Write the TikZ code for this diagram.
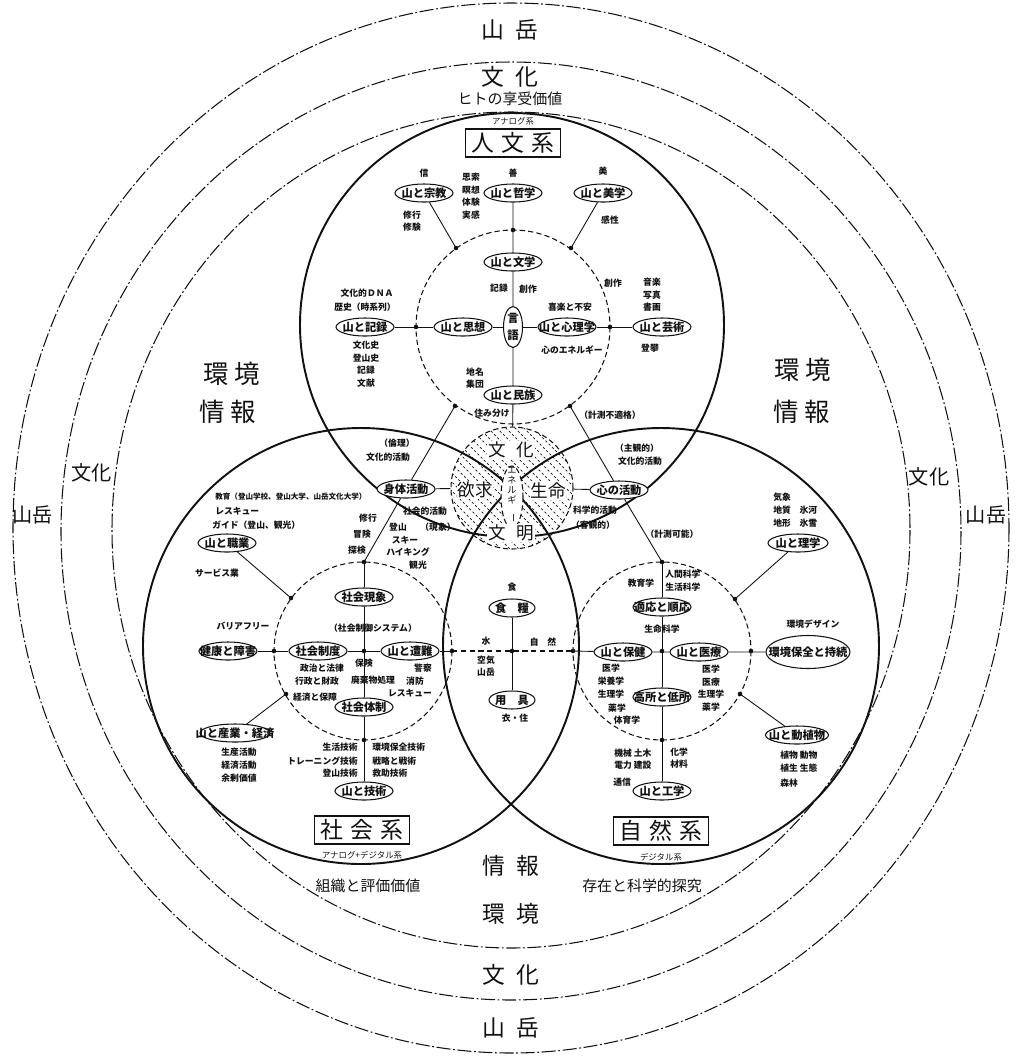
\documentclass[tikz,border=0pt]{standalone}
\usepackage{fontspec}
\usepackage{graphicx}
\setmainfont{Noto Sans CJK JP}
\usetikzlibrary{shapes.geometric}
\definecolor{inkdark}{HTML}{111111}

\begin{document}
\begin{tikzpicture}[x=0.02cm, y=-0.02cm, inkdark,
    ring/.style={line width=0.6pt, dash pattern=on 8pt off 1.5pt on 1pt off 1.5pt},
    sysline/.style={line width=1.1pt},
    innerring/.style={line width=0.6pt, dash pattern=on 3pt off 1.8pt},
    wire/.style={line width=0.5pt},
    bub/.style={draw, ellipse, fill=white, line width=0.6pt, inner sep=0pt,
        minimum width=1.16cm, minimum height=0.36cm,
        font=\fontsize{6.4}{7}\selectfont\bfseries,
        execute at begin node={\hbox to 0pt\bgroup\hss},
        execute at end node={\hss\egroup}},
    lbl/.style={inner sep=0pt, align=center, font=\fontsize{5}{7.2}\selectfont\bfseries},
    tiny/.style={inner sep=0pt, font=\fontsize{4.8}{6}\selectfont},
    big/.style={inner sep=0pt, font=\fontsize{13}{15}\selectfont},
    side/.style={inner sep=0pt, font=\fontsize{11.5}{13}\selectfont},
    mid/.style={inner sep=0pt, font=\fontsize{8.5}{10}\selectfont},
    sysbox/.style={draw, fill=white, line width=0.9pt, inner xsep=3.6pt, inner ysep=2pt,
        font=\fontsize{13}{15}\selectfont},
    coretext/.style={inner sep=0.4pt, fill=white, font=\fontsize{10}{12}\selectfont}
]

\useasboundingbox (0,0) rectangle (1016,1056);

% Rings
\draw[ring] (511,528) ellipse [x radius=498, y radius=525];
\draw[ring] (511,531) ellipse [x radius=450, y radius=469];
\draw[ring] (511,530) ellipse [x radius=399, y radius=418];

% Three systems
\draw[sysline] (512,325) circle [radius=212];
\draw[sysline] (361,646) circle [radius=218];
\draw[sysline] (661,646) circle [radius=218];

% Core
\begin{scope}
    \clip (512,488) circle [radius=61];
    \foreach \s in {-135,-126,...,135}
        \draw[line width=0.4pt, dash pattern=on 1.3pt off 1.3pt] (512+\s-70,418) -- (512+\s+70,558);
\end{scope}
\node[circle, draw, innerring, minimum size=2.44cm, inner sep=0pt] (core) at (512,488) {};
\draw[innerring, fill=white] (512,497) ellipse [x radius=11, y radius=31];

% Inner rings
\draw[innerring] (513,327) circle [radius=97];
\draw[innerring] (363,651) circle [radius=89];
\draw[innerring] (662,651) circle [radius=89];

\coordinate (hdt) at (513,230);
\coordinate (hdl) at (416,327);
\coordinate (hdr) at (610,327);
\coordinate (hdul) at (456,248);
\coordinate (hdur) at (571,248);
\coordinate (hdll) at (455,406);
\coordinate (hdlr) at (570,406);
\coordinate (sdt) at (364,562);
\coordinate (sdl) at (274,651);
\coordinate (sdr) at (452,651);
\coordinate (sdul) at (291,598);
\coordinate (sdll) at (286,694);
\coordinate (sdb) at (364,740);
\coordinate (scdot) at (364,651);
\coordinate (cdot) at (512,651);
\coordinate (ndt) at (662,562);
\coordinate (ndl) at (573,651);
\coordinate (ndr) at (751,651);
\coordinate (ndur) at (735,599);
\coordinate (ndlr) at (740,694);
\coordinate (ndb) at (662,740);
\coordinate (ncdot) at (662,651);

% Top and side labels
\node[big] (t-gaku) at (510,30) {山\hspace{.5em}岳};
\node[big] (t-bunka) at (510,77) {文\hspace{.5em}化};
\node[mid] (t-kyoju) at (510,99) {ヒトの享受価値};
\node[tiny] (t-analog) at (513,121) {アナログ系};
\node[sysbox] (jinbun) at (513,143) {人\hspace{.3em}文\hspace{.3em}系};
\node[big, font=\fontsize{14.5}{16}\selectfont] (l-kankyo) at (232,374) {環\hspace{.2em}境};
\node[big, font=\fontsize{14.5}{16}\selectfont] (l-joho) at (228,412) {情\hspace{.2em}報};
\node[big, font=\fontsize{14.5}{16}\selectfont] (r-kankyo) at (803,370) {環\hspace{.2em}境};
\node[big, font=\fontsize{14.5}{16}\selectfont] (r-joho) at (802,412) {情\hspace{.2em}報};
\node[side] (l-bunka) at (92,473) {文化};
\node[side] (l-gaku) at (33,515) {山岳};
\node[side] (r-bunka) at (929,477) {文化};
\node[side] (r-gaku) at (986,515) {山岳};
\node[big] (b-joho) at (511,866) {情\hspace{.5em}報};
\node[big] (b-kankyo) at (511,914) {環\hspace{.5em}境};
\node[big] (b-bunka) at (511,975) {文\hspace{.5em}化};
\node[big] (b-gaku) at (511,1028) {山\hspace{.5em}岳};
\node[mid] (b-soshiki) at (368,886) {組織と評価価値};
\node[mid] (b-sonzai) at (642,886) {存在と科学的探究};

% Core labels
\node[coretext] (k-bunka) at (511,450) {文\hspace{.6em}化};
\node[coretext] (k-yokkyu) at (475,490) {欲求};
\node[coretext] (k-seimei) at (548,491) {生命};
\node[coretext] (k-bunmei) at (511,533) {文\hspace{.6em}明};
\node[lbl, font=\fontsize{5.2}{5.6}\selectfont] (k-energy) at (512,495) {エ\\ネ\\ル\\ギ\\\rotatebox{-90}{ー}};

% Humanities
\node[bub] (shukyo) at (424,193) {山と宗教};
\node[bub] (tetsu) at (513,193) {山と哲学};
\node[bub] (bigaku) at (603,193) {山と美学};
\node[bub] (bungaku) at (513,262) {山と文学};
\node[bub, minimum width=0.38cm, minimum height=0.82cm, font=\fontsize{6.5}{8}\selectfont\bfseries] (gengo) at (513,327) {\shortstack{言\\[1pt]語}};
\node[bub] (shiso) at (463,327) {山と思想};
\node[bub] (shinri) at (567,327) {山と心理学};
\node[bub] (kiroku) at (365,327) {山と記録};
\node[bub] (geijutsu) at (662,327) {山と芸術};
\node[bub] (minzoku) at (513,395) {山と民族};

\node[lbl] (h-shin) at (424,173) {信};
\node[lbl] (h-zen) at (513,173) {善};
\node[lbl] (h-bi) at (603,171) {美};
\node[lbl] (h-shisaku) at (471,196) {思索\\瞑想\\体験\\実感};
\node[lbl] (h-shugyo) at (412,221) {修行\\修験};
\node[lbl] (h-kansei) at (610,220) {感性};
\node[lbl] (h-kiroku) at (499,288) {記録};
\node[lbl] (h-sosaku) at (528,289) {創作};
\node[lbl] (h-sosaku2) at (613,283) {創作};
\node[lbl] (h-ongaku) at (652,295) {音楽\\写真\\書画};
\node[lbl] (h-tohan) at (650,348) {登攀};
\node[lbl] (h-kiraku) at (570,307) {喜楽と不安};
\node[lbl] (h-kokoro) at (572,350) {心のエネルギー};
\node[lbl] (h-dna) at (367,293) {文化的ＤＮＡ};
\node[lbl] (h-rekishi) at (365,307) {歴史（時系列）};
\node[lbl] (h-bunkashi) at (366,364) {文化史\\登山史\\記録\\文献};
\node[lbl] (h-chimei) at (475,378) {地名\\集団};
\node[lbl] (h-sumiwake) at (492,413) {住み分け};
\node[lbl] (h-futeki) at (610,415) {（計測不適格）};

% Society
\node[bub] (shintai) at (406,489) {身体活動};
\node[bub] (shokugyo) at (227,543) {山と職業};
\node[bub] (genshou) at (364,597) {社会現象};
\node[bub] (kenko) at (228,651) {健康と障害};
\node[bub] (seido) at (318,651) {社会制度};
\node[bub] (sonan) at (410,651) {山と遭難};
\node[bub] (taisei) at (364,707) {社会体制};
\node[bub, minimum width=1.4cm] (sangyo) at (235,733) {山と産業・経済};
\node[bub] (gijutsu) at (364,791) {山と技術};
\node[sysbox] (shakai) at (362,830) {社\hspace{.3em}会\hspace{.3em}系};
\node[tiny] (s-analog) at (362,855) {アナログ+デジタル系};

\node[lbl] (s-rinri) at (397,443) {（倫理）};
\node[lbl] (s-bunkatek) at (388,457) {文化的活動};
\node[lbl, anchor=west, font=\fontsize{4.3}{6}\selectfont\bfseries] (s-kyoiku) at (215,497) {教育（登山学校、登山大学、山岳文化大学）};
\node[lbl, anchor=west] (s-rescue) at (215,511) {レスキュー};
\node[lbl, anchor=west] (s-guide) at (212,525) {ガイド（登山、観光）};
\node[lbl] (s-service) at (217,573) {サービス業};
\node[lbl] (s-shugyo) at (368,518) {修行};
\node[lbl] (s-boken) at (362,534) {冒険};
\node[lbl] (s-tanken) at (357,550) {探検};
\node[lbl] (s-shakai) at (425,511) {社会的活動};
\node[lbl] (s-gensho) at (438,527) {（現象）};
\node[lbl] (s-tozan) at (398,527) {登山};
\node[lbl] (s-ski) at (405,540) {スキー};
\node[lbl] (s-hiking) at (408,552) {ハイキング};
\node[lbl] (s-kanko) at (418,565) {観光};
\node[lbl] (s-barrier) at (243,626) {バリアフリー};
\node[lbl] (s-seigyo) at (373,628) {（社会制御システム）};
\node[lbl] (s-hoken) at (364,663) {保険};
\node[lbl] (s-haiki) at (373,680) {廃棄物処理};
\node[lbl] (s-seiji) at (322,668) {政治と法律};
\node[lbl] (s-gyosei) at (317,681) {行政と財政};
\node[lbl] (s-keizai) at (315,697) {経済と保障};
\node[lbl] (s-keisatsu) at (423,668) {警察};
\node[lbl] (s-shobo) at (415,681) {消防};
\node[lbl] (s-rescue2) at (410,693) {レスキュー};
\node[lbl] (s-seisan) at (239,765) {生産活動\\経済活動\\余剰価値};
\node[lbl, anchor=east] (s-seikatsu) at (358,747) {生活技術};
\node[lbl, anchor=east] (s-training) at (358,761) {トレーニング技術};
\node[lbl, anchor=east] (s-tozangi) at (358,773) {登山技術};
\node[lbl, anchor=west] (s-kankyogi) at (372,747) {環境保全技術};
\node[lbl, anchor=west] (s-senryaku) at (372,761) {戦略と戦術};
\node[lbl, anchor=west] (s-kyujo) at (372,773) {救助技術};

% Centre
\node[bub, minimum width=0.92cm] (shokuryo) at (512,608) {食\hspace{1em}糧};
\node[bub, minimum width=0.92cm] (yogu) at (512,700) {用\hspace{1em}具};
\node[lbl] (c-shoku) at (512,587) {食};
\node[lbl] (c-mizu) at (486,641) {水};
\node[lbl] (c-shizen) at (543,642) {自\hspace{1em}然};
\node[lbl] (c-kuki) at (486,666) {空気\\山岳};
\node[lbl] (c-isho) at (515,718) {衣・住};

% Nature
\node[bub] (kokoro) at (619,490) {心の活動};
\node[bub, minimum width=1.2cm] (rigaku) at (798,543) {山と理学};
\node[bub] (tekiou) at (662,607) {適応と順応};
\node[bub] (hoken) at (623,652) {山と保健};
\node[bub] (iryo) at (699,652) {山と医療};
\node[bub, minimum width=1.68cm, minimum height=0.66cm] (kankyo) at (808,652) {環境保全と持続};
\node[bub] (kosho) at (662,697) {高所と低所};
\node[bub, minimum width=1.26cm] (doshoku) at (797,735) {山と動植物};
\node[bub] (kogaku) at (662,791) {山と工学};
\node[sysbox] (shizen) at (661,831) {自\hspace{.3em}然\hspace{.3em}系};
\node[tiny] (n-digital) at (661,857) {デジタル系};

\node[lbl] (n-shukan) at (637,448) {（主観的）};
\node[lbl] (n-bunkatek) at (640,461) {文化的活動};
\node[lbl] (n-kagaku) at (595,510) {科学的活動};
\node[lbl] (n-kyakkan) at (593,525) {（客観的）};
\node[lbl] (n-kasoku) at (672,534) {（計測可能）};
\node[lbl, anchor=west] (n-kisho) at (773,497) {気象};
\node[lbl, anchor=west] (n-chishitsu) at (773,510) {地質\quad 氷河};
\node[lbl, anchor=west] (n-chikei) at (773,523) {地形\quad 氷雪};
\node[lbl] (n-kyoiku) at (641,583) {教育学};
\node[lbl, anchor=west] (n-ningen) at (665,574) {人間科学};
\node[lbl, anchor=west] (n-seikatsu) at (665,587) {生活科学};
\node[lbl] (n-seimei) at (662,629) {生命科学};
\node[lbl] (n-design) at (813,624) {環境デザイン};
\node[lbl] (n-igaku) at (611,681) {医学\\栄養学\\生理学};
\node[lbl] (n-yaku) at (617,708) {薬学};
\node[lbl] (n-taiiku) at (627,720) {体育学};
\node[lbl] (n-igaku2) at (711,688) {医学\\医療\\生理学\\薬学};
\node[lbl, anchor=west] (n-kikai) at (614,753) {機械\ 土木};
\node[lbl, anchor=west] (n-denryoku) at (614,765) {電力\ 建設};
\node[lbl, anchor=west] (n-tsushin) at (613,782) {通信};
\node[lbl, anchor=west, align=left] (n-kagaku2) at (670,758) {化学\\材料};
\node[lbl, anchor=west] (n-shokubutsu) at (780,755) {植物\ 動物};
\node[lbl, anchor=west] (n-shokusei) at (780,768) {植生\ 生態};
\node[lbl, anchor=west] (n-shinrin) at (780,783) {森林};

% Connectors
\draw[wire] (shukyo) -- (hdul);
\draw[wire] (bigaku) -- (hdur);
\draw[wire] (tetsu) -- (bungaku) -- (gengo) -- (minzoku) -- (core);
\draw[wire] (kiroku) -- (shiso) -- (gengo) -- (shinri) -- (geijutsu);

\draw[wire] (sdt) -- (shintai) -- (hdll);
\draw[wire] (shintai) -- (core);
\draw[wire] (shokugyo) -- (sdul);
\draw[wire] (sangyo) -- (sdll);
\draw[wire] (kenko) -- (seido) -- (sonan) -- (sdr);
\draw[wire] (sdt) -- (genshou) -- (taisei) -- (gijutsu);
\draw[line width=1.1pt, dash pattern=on 3pt off 2pt] (sdr) -- (ndl);
\draw[wire] (shokuryo) -- (yogu);

\draw[wire] (ndt) -- (kokoro) -- (hdlr);
\draw[wire] (kokoro) -- (core);
\draw[wire] (ndl) -- (hoken) -- (iryo) -- (kankyo);
\draw[wire] (ndt) -- (tekiou) -- (kosho) -- (kogaku);
\draw[wire] (rigaku) -- (ndur);
\draw[wire] (doshoku) -- (ndlr);

\foreach \d in {hdt,hdl,hdr,hdul,hdur,hdll,hdlr,sdt,sdl,sdr,sdul,sdll,sdb,scdot,cdot,ndt,ndl,ndr,ndur,ndlr,ndb,ncdot}
    \fill (\d) circle (1.3pt);

\end{tikzpicture}
\end{document}
